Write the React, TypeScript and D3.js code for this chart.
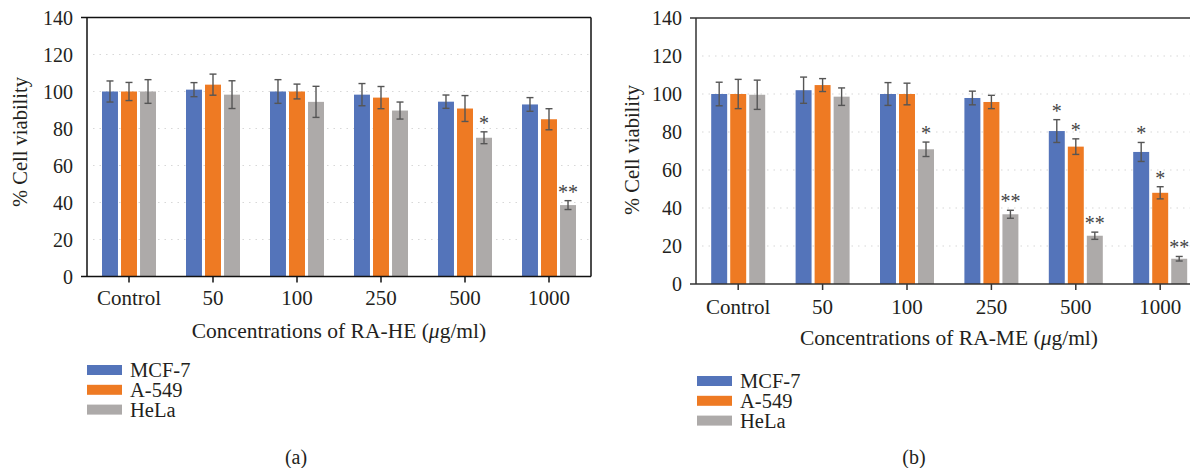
import React, { useEffect } from "react";
import * as d3 from "d3";

const categories = ["Control", "50", "100", "250", "500", "1000"];
const seriesNames = ["MCF-7", "A-549", "HeLa"];
const seriesColors = ["#5474ba", "#ee7a23", "#adaaa9"];
const yTicks = [0, 20, 40, 60, 80, 100, 120, 140];
const gridTicks = [20, 40, 60, 80, 100, 120];

// Panel (a): RA-HE
const heMCF7 = [100, 101, 100, 98.3, 94.5, 93];
const heMCF7Err = [5.7, 3.8, 6.4, 6, 3.6, 3.7];
const heMCF7Sig = ["", "", "", "", "", ""];
const heA549 = [100, 103.7, 100, 96.7, 90.8, 85];
const heA549Err = [4.9, 5.7, 4, 6, 7, 5.7];
const heA549Sig = ["", "", "", "", "", ""];
const heHeLa = [100, 98.3, 94.4, 89.7, 75, 38.6];
const heHeLaErr = [6.4, 7.5, 8.4, 4.6, 3.2, 2.4];
const heHeLaSig = ["", "", "", "", "*", "**"];

// Panel (b): RA-ME
const meMCF7 = [100, 102, 100, 97.9, 80.5, 69.5];
const meMCF7Err = [6.2, 6.9, 6, 3.6, 6, 5];
const meMCF7Sig = ["", "", "", "", "*", "*"];
const meA549 = [100, 104.7, 100, 95.8, 72.3, 48];
const meA549Err = [7.7, 3.4, 5.7, 3.5, 4.1, 3.2];
const meA549Sig = ["", "", "", "", "*", "*"];
const meHeLa = [99.6, 98.6, 70.9, 36.7, 25.4, 13.3];
const meHeLaErr = [7.7, 4.6, 3.8, 2.1, 1.9, 1.2];
const meHeLaSig = ["", "", "*", "**", "**", "**"];

const FONT = "'Liberation Serif', 'DejaVu Serif', serif";

type PanelProps = {
  values: number[][];
  errors: number[][];
  sigs: string[][];
  x0: number;
  x1: number;
  yTop: number;
  yBottom: number;
  clipRight: number;
  axisColor: string;
  rightBorder: boolean;
  tickLabelY: number;
  titleY: number;
  title: string;
  yLabelX: number;
  yLabelY: number;
  legendX: number;
  legendY: number;
  subLabel: string;
  subLabelX: number;
};

function Panel(p: PanelProps) {
  const x = d3.scaleBand<string>().domain(categories).range([p.x0, p.x1]).paddingInner(0).paddingOuter(0);
  const xs = d3.scaleBand<string>().domain(seriesNames).range([-27, 27]).paddingInner(0.16);
  const y = d3.scaleLinear().domain([0, 140]).range([p.yBottom, p.yTop]);
  const right = Math.min(p.x1, p.clipRight);
  const bw = xs.bandwidth();
  const [t0, t1] = p.title.split("μ");
  return (
    <g>
      {gridTicks.map((t) => (
        <line key={"g" + t} x1={p.x0 + 6} x2={right} y1={y(t)} y2={y(t)} stroke="#d8d8d8" strokeWidth={1.2} strokeDasharray="1.5,5" />
      ))}
      {categories.map((c, ci) => (
        <g key={c}>
          {seriesNames.map((s, si) => {
            const v = p.values[si][ci];
            const e = p.errors[si][ci];
            const bx = (x(c) as number) + x.bandwidth() / 2 + (xs(s) as number);
            const cx = bx + bw / 2;
            const sig = p.sigs[si][ci];
            return (
              <g key={s}>
                <rect x={bx} y={y(v)} width={bw} height={p.yBottom - y(v)} fill={seriesColors[si]} />
                <line x1={cx} x2={cx} y1={y(v + e)} y2={y(v - e)} stroke="#555" strokeWidth={1.4} />
                <line x1={cx - 3.5} x2={cx + 3.5} y1={y(v + e)} y2={y(v + e)} stroke="#555" strokeWidth={1.4} />
                <line x1={cx - 3.5} x2={cx + 3.5} y1={y(v - e)} y2={y(v - e)} stroke="#555" strokeWidth={1.4} />
                {sig && (
                  <text x={cx} y={y(v + e) - 2} textAnchor="middle" fontSize={20} fill="#444" fontFamily={FONT}>
                    {sig}
                  </text>
                )}
              </g>
            );
          })}
        </g>
      ))}
      <line x1={p.x0 - 6} x2={right} y1={p.yTop} y2={p.yTop} stroke={p.axisColor} strokeWidth={1.5} />
      <line x1={p.x0 - 6} x2={right} y1={p.yBottom} y2={p.yBottom} stroke={p.axisColor} strokeWidth={1.5} />
      <line x1={p.x0} x2={p.x0} y1={p.yTop} y2={p.yBottom} stroke={p.axisColor} strokeWidth={1.5} />
      {p.rightBorder && <line x1={p.x1} x2={p.x1} y1={p.yTop} y2={p.yBottom} stroke={p.axisColor} strokeWidth={1.5} />}
      {categories.map((c) => {
        const cx = (x(c) as number) + x.bandwidth() / 2;
        return (
          <g key={"t" + c}>
            <line x1={cx} x2={cx} y1={p.yBottom} y2={p.yBottom + 6} stroke={p.axisColor} strokeWidth={1.5} />
            <text x={cx} y={p.tickLabelY} textAnchor="middle" fontSize={21} fill="#231f20" fontFamily={FONT}>
              {c}
            </text>
          </g>
        );
      })}
      {yTicks.map((t) => (
        <text key={"y" + t} x={p.x0 - 14} y={y(t)} dy="0.35em" textAnchor="end" fontSize={20} fill="#231f20" fontFamily={FONT}>
          {t}
        </text>
      ))}
      <text x={(p.x0 + Math.min(p.x1, 1202)) / 2} y={p.titleY} textAnchor="middle" fontSize={21.5} fill="#231f20" fontFamily={FONT}>
        {t0}
        <tspan fontStyle="italic">μ</tspan>
        {t1}
      </text>
      <text transform={`translate(${p.yLabelX},${p.yLabelY}) rotate(-90)`} textAnchor="middle" fontSize={20.5} fill="#231f20" fontFamily={FONT}>
        % Cell viability
      </text>
      {seriesNames.map((s, si) => (
        <g key={"l" + s}>
          <rect x={p.legendX} y={p.legendY + si * 19.8 - 5} width={35} height={10} fill={seriesColors[si]} />
          <text x={p.legendX + 43} y={p.legendY + si * 19.8 + 7} fontSize={20.5} fill="#231f20" fontFamily={FONT}>
            {s}
          </text>
        </g>
      ))}
      <text x={p.subLabelX} y={464} textAnchor="middle" fontSize={20} fill="#231f20" fontFamily={FONT}>
        {p.subLabel}
      </text>
    </g>
  );
}

export default function App() {
  useEffect(() => {
    document.body.style.margin = "0";
  }, []);
  return (
    <svg width={1190} height={468} style={{ display: "block", background: "#fff" }} fontFamily={FONT}>
      <Panel
        values={[heMCF7, heA549, heHeLa]}
        errors={[heMCF7Err, heA549Err, heHeLaErr]}
        sigs={[heMCF7Sig, heA549Sig, heHeLaSig]}
        x0={87}
        x1={591}
        yTop={17.5}
        yBottom={276.5}
        clipRight={1190}
        axisColor="#111"
        rightBorder={true}
        tickLabelY={305}
        titleY={338}
        title="Concentrations of RA-HE (μg/ml)"
        yLabelX={27}
        yLabelY={142}
        legendX={87}
        legendY={370}
        subLabel="(a)"
        subLabelX={296}
      />
      <Panel
        values={[meMCF7, meA549, meHeLa]}
        errors={[meMCF7Err, meA549Err, meHeLaErr]}
        sigs={[meMCF7Sig, meA549Sig, meHeLaSig]}
        x0={696}
        x1={1202.4}
        yTop={18}
        yBottom={284}
        clipRight={1190}
        axisColor="#333"
        rightBorder={false}
        tickLabelY={314}
        titleY={345}
        title="Concentrations of RA-ME (μg/ml)"
        yLabelX={639}
        yLabelY={150}
        legendX={697}
        legendY={381}
        subLabel="(b)"
        subLabelX={914}
      />
    </svg>
  );
}
